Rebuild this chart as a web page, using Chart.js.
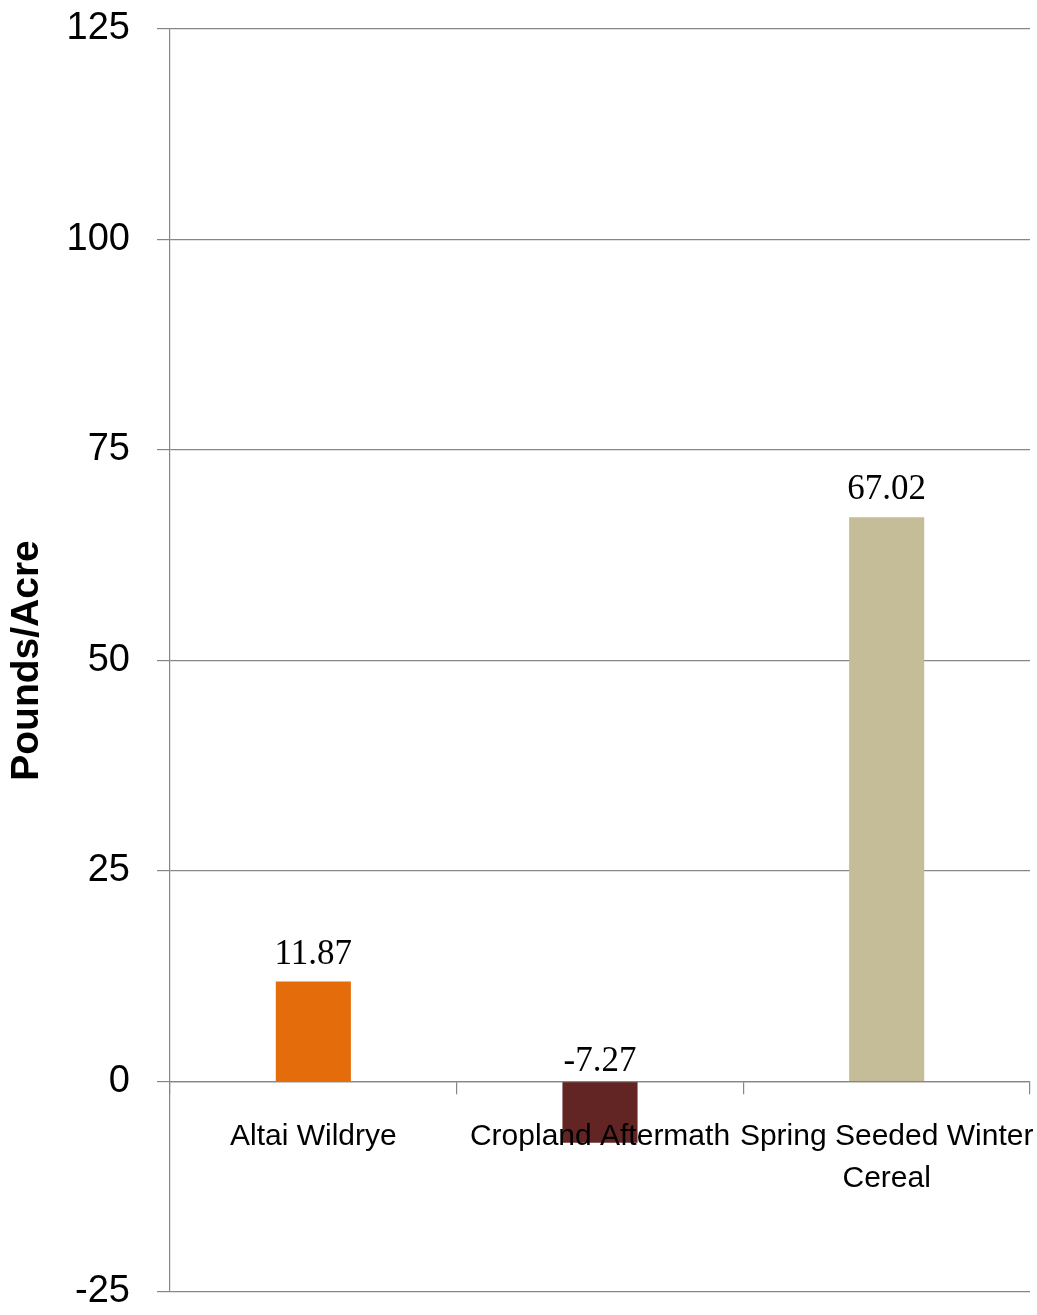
<!DOCTYPE html>
<html>
<head>
<meta charset="utf-8">
<script src="https://cdn.jsdelivr.net/npm/chart.js@4.4.1/dist/chart.umd.min.js"></script>
<style>
  html, body { margin: 0; padding: 0; background: #ffffff; }
  #wrap { position: relative; width: 1037px; height: 1315px; }
</style>
</head>
<body>
<div id="wrap"><canvas id="c" width="1037" height="1315"></canvas></div>
<script>
// ---- data ----
const categories = ["Altai Wildrye", "Cropland Aftermath", ["Spring Seeded Winter", "Cereal"]];
const values = [11.87, -7.27, 67.02];
const valueLabels = ["11.87", "-7.27", "67.02"];
const barColors = ["#E46C0A", "#632523", "#C4BD97"];
const yMin = -25;
const yMax = 125;
const yStep = 25;
const yTitle = "Pounds/Acre";

const GRID = "#868686";
const SANS = "'Liberation Sans', Arial, sans-serif";

const valueLabelPlugin = {
  id: "valueLabels",
  afterDatasetsDraw(chart) {
    const ctx = chart.ctx;
    const meta = chart.getDatasetMeta(0);
    const yScale = chart.scales.y;
    ctx.save();
    ctx.font = "35px 'Liberation Serif', 'DejaVu Serif', serif";
    ctx.fillStyle = "#000000";
    ctx.textAlign = "center";
    ctx.textBaseline = "alphabetic";
    meta.data.forEach((bar, i) => {
      const v = values[i];
      const y = yScale.getPixelForValue(Math.max(v, 0)) - (v >= 0 ? 18 : 11);
      ctx.fillText(valueLabels[i], bar.x, y);
    });
    ctx.restore();
  }
};

new Chart(document.getElementById("c"), {
  type: "bar",
  data: {
    labels: categories,
    datasets: [{
      data: values,
      backgroundColor: barColors,
      borderWidth: 0,
      categoryPercentage: 1.0,
      barPercentage: 0.262
    }]
  },
  options: {
    responsive: false,
    animation: false,
    devicePixelRatio: 1,
    layout: { padding: { left: 0, right: 7, top: 29, bottom: 23 } },
    plugins: { legend: { display: false }, tooltip: { enabled: false } },
    scales: {
      x: {
        position: { y: 0 },
        offset: true,
        afterFit(scale) {
          scale.paddingLeft = 0; scale.paddingRight = 0;
          scale.paddingTop = 0; scale.paddingBottom = 0;
        },
        grid: {
          offset: true,
          drawOnChartArea: false,
          drawTicks: true,
          tickLength: 12,
          color: GRID,
          lineWidth: 1.2,
          z: 1
        },
        border: { display: true, color: GRID, width: 1.2, z: 1 },
        ticks: {
          z: 1,
          color: "#000000",
          padding: 22,
          maxRotation: 0,
          autoSkip: false,
          font: { family: SANS, size: 30, lineHeight: 1.4 }
        }
      },
      y: {
        min: yMin,
        max: yMax,
        afterFit(scale) {
          scale.width = 170;
          scale.paddingTop = 0; scale.paddingBottom = 0;
          scale.paddingLeft = 0; scale.paddingRight = 0;
        },
        ticks: {
          stepSize: yStep,
          color: "#000000",
          padding: 27,
          font: { family: SANS, size: 38 }
        },
        grid: {
          color: GRID,
          lineWidth: 1.2,
          drawTicks: true,
          tickLength: 13
        },
        border: { display: true, color: GRID, width: 1.2 },
        title: {
          display: true,
          text: yTitle,
          color: "#000000",
          padding: { top: 4, bottom: 0 },
          font: { family: SANS, size: 39, weight: "bold", lineHeight: 1.2 }
        }
      }
    }
  },
  plugins: [valueLabelPlugin]
});
</script>
</body>
</html>
